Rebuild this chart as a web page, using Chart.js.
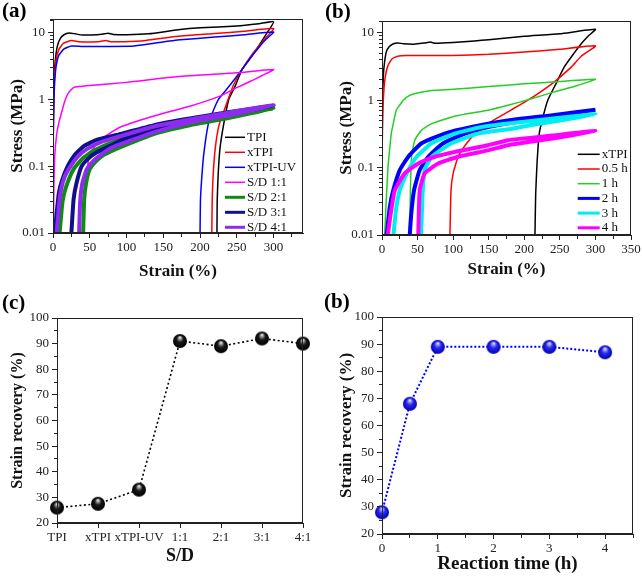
<!DOCTYPE html>
<html>
<head>
<meta charset="utf-8">
<script src="https://cdn.jsdelivr.net/npm/chart.js@4.4.0/dist/chart.umd.min.js"></script>
<style>
body{margin:0;background:#fff;}
#wrap{position:relative;width:642px;height:576px;overflow:hidden;}
canvas{position:absolute;}
.lbl{position:absolute;font:bold 21px 'Liberation Serif',serif;line-height:1;color:#000;}
</style>
</head>
<body>
<div id="wrap">
  <canvas id="ca" width="321" height="290" style="left:0;top:0"></canvas>
  <canvas id="cb" width="321" height="290" style="left:321px;top:0"></canvas>
  <canvas id="cc" width="321" height="286" style="left:0;top:290px"></canvas>
  <canvas id="cd" width="321" height="286" style="left:321px;top:290px"></canvas>
  <div class="lbl" style="left:2px;top:0px">(a)</div>
  <div class="lbl" style="left:325px;top:1px">(b)</div>
  <div class="lbl" style="left:2px;top:292px">(c)</div>
  <div class="lbl" style="left:324px;top:291px">(b)</div>
</div>
<script>
const SERIF = "'Liberation Serif', 'Times New Roman', serif";

// (a) stress-strain loops, [strain %, stress MPa], loading then unloading
const aTPI = [[0,0.01],[0.3,0.3],[1,1.2],[2,2.6],[3.5,4.2],[6,6.3],[10,8.2],[15,9.3],[22,9.9],[30,9.6],[40,9.2],[60,9.3],[70,9.6],[75,9.8],[82,9.4],[100,9.3],[130,9.6],[170,11],[200,11.8],[250,12.6],[280,13.6],[300,14.5],
  [290,9.5],[280,6.4],[270,4.4],[257,2.8],[248,1.6],[239,1.0],[232,0.42],[227,0.18],[224.5,0.07],[223.3,0.03],[223,0.01]];
const aXTPI = [[0,0.01],[0.3,0.25],[1,1],[2,2.1],[4,3.8],[8,5.6],[14,6.9],[25,7.6],[35,7.3],[60,7.3],[72,7.6],[80,7.3],[120,7.5],[170,8.8],[220,9.7],[260,10.5],[300,11.5],
  [290,8.5],[280,6.3],[270,4.6],[257,2.8],[245,1.6],[235,0.8],[226,0.42],[221,0.2],[218,0.08],[216.5,0.03],[216,0.01]];
const aXTPIUV = [[0,0.01],[0.3,0.2],[1,0.8],[2,1.6],[4,3],[8,4.6],[15,5.7],[25,6.3],[40,6.2],[80,6.2],[110,6.3],[140,7.0],[173,7.8],[220,8.6],[260,9.3],[300,10.2],
  [290,8],[280,6],[270,4.4],[257,2.8],[240,1.6],[225,1.0],[216,0.6],[211,0.42],[205,0.15],[202,0.06],[200.5,0.03],[200,0.01]];
const aSD11 = [[0.5,0.01],[1.2,0.05],[2.5,0.15],[5,0.3],[8,0.45],[11,0.6],[16,0.94],[21,1.25],[28,1.5],[35,1.56],[50,1.62],[100,1.8],[170,2.2],[250,2.5],[300,2.8],
  [285,2.3],[270,1.9],[250,1.5],[227,1.12],[186,0.79],[141,0.58],[95,0.4],[75,0.3],[60,0.22],[50,0.15],[46,0.08],[43,0.03],[42,0.01]];
const aSD21 = [[9,0.01],[13,0.03],[18,0.05],[28,0.09],[40,0.13],[55,0.17],[86,0.24],[127,0.33],[186,0.46],[240,0.58],[300,0.73],
  [240,0.53],[186,0.41],[140,0.31],[95,0.2],[80,0.17],[70,0.15],[59,0.12],[50,0.09],[45,0.056],[42.4,0.032],[41,0.01]];
const aSD31 = [[2.3,0.01],[5,0.02],[8,0.04],[12,0.06],[20,0.1],[30,0.15],[42,0.2],[60,0.25],[95,0.31],[140,0.42],[186,0.52],[240,0.65],[300,0.8],
  [240,0.6],[186,0.47],[140,0.36],[95,0.25],[77,0.2],[59,0.16],[48,0.13],[39,0.1],[32,0.056],[28,0.032],[25,0.01]];
const aSD41 = [[5,0.01],[8,0.025],[11,0.045],[16,0.07],[24,0.1],[34,0.14],[46,0.18],[65,0.23],[95,0.29],[140,0.4],[186,0.5],[240,0.64],[300,0.82],
  [240,0.58],[186,0.45],[140,0.33],[95,0.22],[80,0.19],[66,0.15],[55,0.12],[46,0.09],[40,0.056],[37,0.03],[35.5,0.01]];
const aNames = ['TPI', 'xTPI', 'xTPI-UV', 'S/D 1:1', 'S/D 2:1', 'S/D 3:1', 'S/D 4:1'];
const aColors = ['#000000', '#ff0000', '#0000ff', '#ff00ff', '#108a10', '#10108a', '#8c2cf0'];
const aWidths = [1.5, 1.5, 1.5, 1.5, 4, 4, 4];

// (b) stress-strain loops vs reaction time
const bXTPI = [[0,0.01],[0.3,0.3],[1,1.2],[2,2.4],[3.5,3.6],[6,5.2],[10,6.2],[16,6.9],[22,7.1],[30,6.9],[45,6.8],[60,7.1],[68,7.3],[75,7.0],[100,7.2],[130,7.6],[150,7.9],[200,8.9],[250,9.7],[300,11.3],
  [290,9],[280,6.9],[270,5],[256,3.1],[245,1.8],[233,1.0],[226,0.55],[221,0.32],[218,0.12],[216,0.04],[215,0.01]];
const b05h = [[0,0.01],[0.3,0.2],[1,0.6],[2,1.1],[4,2],[8,3.2],[14,4.1],[22,4.5],[35,4.6],[100,4.6],[150,4.8],[200,5.2],[250,5.7],[300,6.4],
  [280,4.5],[266,3.1],[240,1.8],[205,1.0],[173,0.635],[149,0.45],[131,0.32],[119,0.23],[107,0.145],[100,0.082],[97,0.046],[95.5,0.01]];
const b1h = [[3.7,0.01],[6,0.033],[8.4,0.1],[11,0.2],[13,0.32],[15.8,0.45],[20,0.71],[25,0.85],[30,1.0],[37,1.15],[45,1.25],[70,1.4],[100,1.45],[150,1.6],[200,1.75],[250,1.9],[300,2.05],
  [270,1.6],[242,1.33],[210,1.05],[177,0.84],[149,0.71],[102,0.58],[70,0.45],[55.6,0.36],[46,0.255],[41.6,0.145],[40,0.05],[39,0.01]];
const b2h = [[6.5,0.01],[11,0.026],[15.8,0.046],[25,0.092],[37,0.145],[55.6,0.23],[88,0.32],[126,0.40],[177,0.5],[240,0.6],[300,0.72],
  [240,0.58],[200,0.5],[149,0.40],[116.5,0.32],[86,0.23],[65,0.145],[53,0.092],[45,0.046],[41,0.02],[39,0.01]];
const b3h = [[16,0.01],[20,0.025],[25,0.046],[37,0.092],[48.6,0.145],[69.7,0.23],[102,0.32],[140,0.40],[200,0.48],[250,0.55],[300,0.62],
  [250,0.5],[210,0.43],[177,0.37],[135,0.32],[97.7,0.23],[70,0.145],[60,0.092],[57,0.04],[55,0.01]];
const b4h = [[8,0.01],[12,0.02],[18,0.046],[32,0.082],[51,0.115],[74,0.145],[112,0.18],[149,0.215],[177,0.255],[240,0.3],[300,0.35],
  [240,0.27],[177,0.215],[149,0.18],[107,0.145],[79,0.115],[60,0.082],[53,0.046],[51,0.01]];
const bNames = ['xTPI', '0.5 h', '1 h', '2 h', '3 h', '4 h'];
const bColors = ['#000000', '#ff0000', '#22d022', '#0000ff', '#00eeee', '#ff00ff'];
const bWidths = [1.5, 1.5, 1.5, 4, 4, 4];

// (c) strain recovery vs S/D
const cLabels = ['TPI', 'xTPI', 'xTPI-UV', '1:1', '2:1', '3:1', '4:1'];
const cRecovery = [26, 27.5, 33, 91, 89, 92, 90];

// (d) strain recovery vs reaction time
const dTime = [0, 0.5, 1, 2, 3, 4];
const dRecovery = [28, 68, 89, 89, 89, 87];

function sphere(r, edge, mid, light) {
  const c = document.createElement('canvas');
  c.width = c.height = 2 * r + 2;
  const g = c.getContext('2d');
  const cx = r + 1, cy = r + 1;
  const grad = g.createRadialGradient(cx, cy - r * 0.55, r * 0.05, cx, cy, r);
  grad.addColorStop(0, light);
  grad.addColorStop(0.45, mid);
  grad.addColorStop(1, edge);
  g.fillStyle = grad;
  g.beginPath(); g.arc(cx, cy, r, 0, Math.PI * 2); g.fill();
  return c;
}
const blackBall = sphere(7, '#000000', '#1a1a1a', '#e8e8e8');
const blueBall = sphere(7, '#0000b0', '#2a2af0', '#e0e0ff');

const framePlugin = {
  id: 'frame',
  afterDraw(chart, args, opts) {
    const {ctx, chartArea: a} = chart;
    ctx.save();
    ctx.strokeStyle = '#222';
    ctx.lineWidth = 1;
    ctx.strokeRect(Math.round(a.left) + 0.5, Math.round(a.top) + 0.5, Math.round(a.right - a.left) - 1, Math.round(a.bottom - a.top) - 1);
    const lg = opts.legend;
    if (lg) {
      ctx.font = '13px ' + SERIF;
      ctx.textBaseline = 'middle';
      chart.data.datasets.forEach((ds, i) => {
        const y = lg.y + i * lg.dy;
        ctx.strokeStyle = ds.borderColor;
        ctx.lineWidth = Math.min(ds.borderWidth, 3);
        ctx.beginPath(); ctx.moveTo(lg.x, y); ctx.lineTo(lg.x + lg.len, y); ctx.stroke();
        ctx.fillStyle = '#111';
        ctx.fillText(ds.label, lg.x + lg.len + 2, y);
      });
    }
    ctx.restore();
  }
};

function isDecade(v) { const e = Math.log10(v); return Math.abs(e - Math.round(e)) < 1e-6; }
const tickFont = {family: SERIF, size: 13};

function loops(names, curves, colors, widths) {
  return curves.map((pts, i) => ({
    label: names[i],
    data: pts.map(p => ({x: p[0], y: p[1]})),
    borderColor: colors[i],
    borderWidth: widths[i],
    showLine: true, pointRadius: 0, tension: 0.15, fill: false, order: -i
  }));
}

function xAxis(opt) {
  const ticks = {autoSkip: false, maxRotation: 0, includeBounds: false, font: tickFont, color: '#222', padding: 2};
  if (opt.step) ticks.stepSize = opt.step;
  if (opt.callback) ticks.callback = opt.callback;
  return {
    type: opt.type || 'linear', min: opt.min, max: opt.max, offset: false,
    border: {color: '#222'},
    grid: {drawOnChartArea: false, color: '#222', tickLength: 5,
      tickBorderDash: c => (c.tick && opt.major && !opt.major(c.tick.value)) ? [3, 20] : []},
    ticks: ticks,
    title: {display: true, text: opt.title, color: '#111', font: {family: SERIF, size: opt.titleSize || 17, weight: 'bold'},
      padding: {top: 0, bottom: opt.titlePad}},
    afterFit: s => { s.height = opt.height; s.paddingLeft = 0; s.paddingRight = 0; }
  };
}

function yAxis(opt) {
  return {
    type: opt.type || 'linear', min: opt.min, max: opt.max,
    border: {color: '#222'},
    grid: {drawOnChartArea: false, color: '#222', tickLength: 5,
      tickBorderDash: c => (c.tick && !opt.major(c.tick.value)) ? [0, 2, 3, 20] : []},
    ticks: {autoSkip: false, stepSize: opt.step, font: tickFont, color: '#222', padding: 3,
      callback: v => opt.major(v) ? String(v) : ''},
    title: {display: true, text: opt.title, color: '#111', font: {family: SERIF, size: opt.titleSize || 17, weight: 'bold'},
      padding: {top: opt.titlePad, bottom: 0}},
    afterFit: s => { s.width = opt.width; s.paddingTop = 0; s.paddingBottom = 0; }
  };
}

const base = {responsive: false, animation: false, events: []};

new Chart(document.getElementById('ca'), {
  type: 'scatter',
  data: {datasets: loops(aNames, [aTPI, aXTPI, aXTPIUV, aSD11, aSD21, aSD31, aSD41], aColors, aWidths)},
  options: Object.assign({}, base, {
    layout: {padding: {left: 0, right: 18, top: 19, bottom: 0}},
    plugins: {legend: {display: false}, tooltip: {enabled: false}, frame: {legend: {x: 225, y: 137.3, dy: 15, len: 20}}},
    scales: {
      x: xAxis({min: 0, max: 340, step: 25, height: 57, title: 'Strain (%)', titlePad: 8,
        major: v => v % 50 === 0, callback: v => v % 50 === 0 ? v : ''}),
      y: yAxis({type: 'logarithmic', min: 0.01, max: 16, width: 53, title: 'Stress (MPa)', titlePad: 7, major: isDecade})
    }
  }),
  plugins: [framePlugin]
});

new Chart(document.getElementById('cb'), {
  type: 'scatter',
  data: {datasets: loops(bNames, [bXTPI, b05h, b1h, b2h, b3h, b4h], bColors, bWidths)},
  options: Object.assign({}, base, {
    layout: {padding: {left: 0, right: 11, top: 21, bottom: 0}},
    plugins: {legend: {display: false}, tooltip: {enabled: false}, frame: {legend: {x: 256.7, y: 154.3, dy: 14.7, len: 22}}},
    scales: {
      x: xAxis({min: 0, max: 350, step: 25, height: 55, title: 'Strain (%)', titlePad: 10,
        major: v => v % 50 === 0, callback: v => v % 50 === 0 ? v : ''}),
      y: yAxis({type: 'logarithmic', min: 0.01, max: 15, width: 61, title: 'Stress (MPa)', titlePad: 15, major: isDecade})
    }
  }),
  plugins: [framePlugin]
});

new Chart(document.getElementById('cc'), {
  type: 'line',
  data: {labels: cLabels, datasets: [{data: cRecovery, borderColor: '#000', borderWidth: 1.6, borderDash: [2, 2.5],
    pointStyle: blackBall, pointRadius: 7, fill: false, tension: 0, clip: false}]},
  options: Object.assign({}, base, {
    layout: {padding: {left: 0, right: 18, top: 28, bottom: 0}},
    plugins: {legend: {display: false}, tooltip: {enabled: false}, frame: {}},
    scales: {
      x: xAxis({type: 'category', height: 53, title: 'S/D', titleSize: 18, titlePad: 9}),
      y: yAxis({min: 20, max: 100, step: 5, width: 57, title: 'Strain recovery (%)', titleSize: 16, titlePad: 8, major: v => v % 10 === 0})
    }
  }),
  plugins: [framePlugin]
});

new Chart(document.getElementById('cd'), {
  type: 'line',
  data: {datasets: [{data: dTime.map((t, i) => ({x: t, y: dRecovery[i]})), borderColor: '#0000ff', borderWidth: 2, borderDash: [2, 2],
    pointStyle: blueBall, pointRadius: 7, fill: false, tension: 0, clip: false}]},
  options: Object.assign({}, base, {
    layout: {padding: {left: 0, right: 6, top: 27, bottom: 0}},
    plugins: {legend: {display: false}, tooltip: {enabled: false}, frame: {}},
    scales: {
      x: xAxis({min: 0, max: 4.5, step: 0.5, height: 42, title: 'Reaction time (h)', titleSize: 19, titlePad: 1,
        major: v => Number.isInteger(v), callback: v => Number.isInteger(v) ? v : ''}),
      y: yAxis({min: 20, max: 100, step: 5, width: 61, title: 'Strain recovery (%)', titlePad: 15, major: v => v % 10 === 0})
    }
  }),
  plugins: [framePlugin]
});
</script>
</body>
</html>
